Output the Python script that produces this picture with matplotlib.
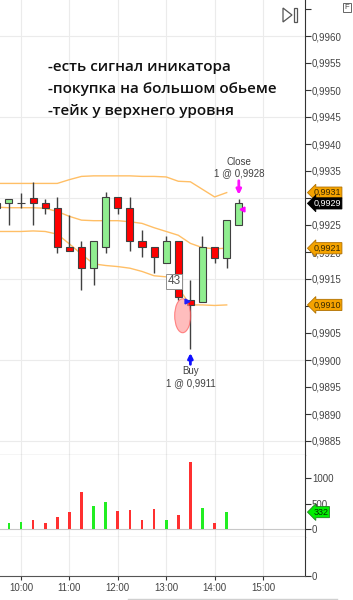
import matplotlib.pyplot as plt
from matplotlib.patches import Ellipse, Polygon, Rectangle
from matplotlib.lines import Line2D

# 15 min bars
times = ['09:30', '09:45', '10:00', '10:15', '10:30', '10:45', '11:00', '11:15',
         '11:30', '11:45', '12:00', '12:15', '12:30', '12:45', '13:00', '13:15',
         '13:30', '13:45', '14:00', '14:15', '14:30']
opens = [0.99281, 0.99291, 0.99290, 0.99300, 0.99290, 0.99281, 0.99209, 0.99209,
         0.99170, 0.99209, 0.99301, 0.99281, 0.99220, 0.99210, 0.99180, 0.99220,
         0.99111, 0.99108, 0.99210, 0.99189, 0.99250]
highs = [0.99300, 0.99299, 0.99310, 0.99330, 0.99299, 0.99301, 0.99269, 0.99221,
         0.99220, 0.99311, 0.99301, 0.99302, 0.99241, 0.99210, 0.99230, 0.99220,
         0.99149, 0.99230, 0.99210, 0.99259, 0.99298]
lows = [0.99280, 0.99250, 0.99281, 0.99250, 0.99270, 0.99199, 0.99201, 0.99130,
        0.99139, 0.99199, 0.99270, 0.99201, 0.99190, 0.99161, 0.99180, 0.99112,
        0.99020, 0.99108, 0.99180, 0.99170, 0.99250]
closes = [0.99291, 0.99299, 0.99290, 0.99290, 0.99282, 0.99209, 0.99201, 0.99170,
          0.99220, 0.99301, 0.99281, 0.99220, 0.99210, 0.99190, 0.99220, 0.99117,
          0.99102, 0.99210, 0.99189, 0.99259, 0.99290]

# volume (09:45 - 14:15)
vol_times = times[1:20]
volumes = [107, 133, 180, 107, 227, 327, 720, 447, 540, 360, 373, 167, 387, 173,
           267, 1320, 413, 120, 332]

# bands (09:30 - 14:15)
band_times = times[:20]
upper = [0.99327, 0.99327, 0.99327, 0.99327, 0.99327, 0.99327, 0.99334, 0.99340,
         0.99341, 0.99341, 0.99341, 0.99341, 0.99340, 0.99340, 0.99339, 0.99331,
         0.99330, 0.99316, 0.99302, 0.99310]
middle = [0.99283, 0.99282, 0.99282, 0.99282, 0.99281, 0.99275, 0.99266, 0.99259,
          0.99258, 0.99258, 0.99258, 0.99256, 0.99253, 0.99245, 0.99238, 0.99231,
          0.99216, 0.99208, 0.99206, 0.99207]
lower = [0.99238, 0.99238, 0.99238, 0.99239, 0.99238, 0.99233, 0.99215, 0.99196,
         0.99178, 0.99175, 0.99173, 0.99170, 0.99164, 0.99156, 0.99154, 0.99133,
         0.99102, 0.99102, 0.99101, 0.99102]

price_ticks = [0.9885, 0.9890, 0.9895, 0.9900, 0.9905, 0.9910, 0.9915, 0.9920,
               0.9925, 0.9930, 0.9935, 0.9940, 0.9945, 0.9950, 0.9955, 0.9960, 0.9965]
# labels covered by the value tags / cut at the top
hidden_labels = [0.9910, 0.9930, 0.9965]
price_grid = [0.9885, 0.9900, 0.9915, 0.9930, 0.9945, 0.9960]
hour_ticks = ['10:00', '11:00', '12:00', '13:00', '14:00', '15:00']
vol_ticks = [0, 500, 1000]

notes = ['-есть сигнал иникатора', '-покупка на большом обьеме', '-тейк у верхнего уровня']
buy_time, buy_price = '13:30', 0.9911
close_time, close_price = '14:30', 0.9928
bar_number = '43'


def to_h(s):
    h, m = s.split(':')
    return int(h) + int(m) / 60


def fmt_price(v):
    return ('%.4f' % v).replace('.', ',')


W, H = 353, 600
fig = plt.figure(figsize=(W / 100, H / 100), dpi=100)
plt.rcParams['font.family'] = ['Liberation Sans', 'DejaVu Sans']

axw = 305 / W
ax = fig.add_axes([0, 1 - 455 / H, axw, 455 / H])
axv = fig.add_axes([0, 1 - 537 / H, axw, 82 / H], sharex=ax)
axe = fig.add_axes([0, 1 - 576 / H, axw, 39 / H], sharex=ax)

x = [to_h(t) for t in times]
xv = [to_h(t) for t in vol_times]
xb = [to_h(t) for t in band_times]
hx = [to_h(t) for t in hour_ticks]

# grid
for a in (ax, axv, axe):
    for h in hx:
        a.axvline(h, color='#ebebeb', lw=0.8, zorder=0)
for p in price_grid:
    ax.axhline(p, color='#ebebeb', lw=0.8, zorder=0)
axv.axhline(0, color='#c8c8c8', lw=0.8, zorder=0)

# bands
for band in (upper, middle, lower):
    ax.plot(xb, band, color='#ffbf66', lw=1.0, zorder=1)

# candles
is_up = [c >= o for o, c in zip(opens, closes)]
body_col = ['#90ee90' if u else '#ff0000' for u in is_up]
bottoms = [min(o, c) for o, c in zip(opens, closes)]
heights = [max(abs(c - o), 0.000004) for o, c in zip(opens, closes)]
ax.vlines(x, lows, highs, color='#404040', lw=1.0, zorder=2)
ax.bar(x, heights, width=0.145, bottom=bottoms, color=body_col,
       edgecolor='#404040', lw=0.8, zorder=3)

# buy / close marks
bx = to_h(buy_time)
cx = to_h(close_time)
ax.add_patch(Ellipse((bx - 0.16, 0.99082), 0.33, 0.00063, fc='#ff9a9a',
                     ec='#ff5050', lw=0.8, alpha=0.65, zorder=4))
ax.plot(bx - 0.07, buy_price, marker='>', color='#2020ff', ms=3.5, zorder=5)
ax.annotate('', xy=(bx, 0.99013), xytext=(bx, 0.98992),
            arrowprops=dict(arrowstyle='-|>', color='#1010ff', lw=2,
                            mutation_scale=7, shrinkA=0, shrinkB=0))
ax.text(bx, 0.98988, 'Buy\n1 @ ' + fmt_price(buy_price), ha='center', va='top',
        fontsize=7, color='#404040', linespacing=1.15)

ax.plot(cx + 0.07, close_price, marker='<', color='#ff00ff', ms=3.5, zorder=5)
ax.annotate('', xy=(cx, 0.99306), xytext=(cx, 0.99332),
            arrowprops=dict(arrowstyle='-|>', color='#ff10ff', lw=2,
                            mutation_scale=7, shrinkA=0, shrinkB=0))
ax.text(cx, 0.99337, 'Close\n1 @ ' + fmt_price(close_price), ha='center',
        va='bottom', fontsize=7, color='#404040', linespacing=1.15)

ax.text(13.16, 0.99146, bar_number, ha='center', va='center', fontsize=8.5,
        color='#505050', zorder=6,
        bbox=dict(boxstyle='square,pad=0.12', fc='white', ec='#909090', lw=0.7))

# notes
for i, line in enumerate(notes):
    ax.text(48 / 305, 1 - (67 + 22 * i) / 455, line, transform=ax.transAxes,
            ha='left', va='center', fontsize=11, color='#111111',
            family=['Open Sans', 'DejaVu Sans'], fontweight='semibold')

# volume
vol_col = ['#22ee22' if u else '#ff3030' for u in is_up[1:20]]
axv.bar(xv, volumes, width=0.055, color=vol_col, zorder=2)

# axes setup
ax.set_xlim(10 - 21 / 48.4, 10 + 284 / 48.4)
ax.set_ylim(0.9960 - 419 / 54000, 0.9960 + 36 / 54000)
axv.set_ylim(-160, 1460)
axe.set_ylim(0, 1)

for a in (ax, axv, axe):
    a.set_facecolor('white')
    a.yaxis.tick_right()
    a.spines['left'].set_visible(False)
    a.spines['top'].set_visible(False)
    a.spines['right'].set_color('#333333')
    a.spines['bottom'].set_color('#555555')
    a.tick_params(axis='y', direction='out', length=4, color='#333333',
                  labelsize=7, labelcolor='#444444', pad=1)
    a.tick_params(axis='x', bottom=False, labelbottom=False)

ax.set_yticks(price_ticks)
ax.set_yticklabels(['' if p in hidden_labels else fmt_price(p) for p in price_ticks])
axv.set_yticks(vol_ticks)
axv.set_yticklabels([str(v) for v in vol_ticks])
axe.set_yticks([0])
axe.set_yticklabels(['0'])
axe.set_xticks(hx)
axe.set_xticklabels(hour_ticks)
axe.tick_params(axis='x', bottom=True, labelbottom=True, direction='out',
                length=3, color='#333333', labelsize=7, labelcolor='#444444', pad=2)


# right side value tags
def tag(a, y, text, fc, tc, ec):
    a.annotate(text, xy=(1, y), xycoords=('axes fraction', 'data'),
               xytext=(6, 0), textcoords='offset points', ha='left', va='center',
               fontsize=6.5, color=tc, annotation_clip=False, zorder=10,
               bbox=dict(boxstyle='larrow,pad=0.12', fc=fc, ec=ec, lw=0.6))


tag(ax, upper[-1], fmt_price(upper[-1]), '#f5a300', '#3a2a00', '#b07000')
tag(ax, closes[-1], fmt_price(closes[-1]), '#000000', 'white', '#000000')
tag(ax, middle[-1], fmt_price(middle[-1]), '#f5a300', '#3a2a00', '#b07000')
tag(ax, lower[-1], fmt_price(lower[-1]), '#f5a300', '#3a2a00', '#b07000')
tag(axv, volumes[-1], str(volumes[-1]), '#00ee00', '#003300', '#208020')


# toolbar bits
def fx(px):
    return px / W


def fy(py):
    return 1 - py / H


fig.add_artist(Polygon([(fx(283), fy(8)), (fx(292), fy(15)), (fx(283), fy(22))],
                       closed=True, fill=False, ec='#555555', lw=0.9,
                       transform=fig.transFigure))
fig.add_artist(Rectangle((fx(294), fy(22)), fx(2.5), 14 / H, fill=False,
                         ec='#555555', lw=0.9, transform=fig.transFigure))
fig.add_artist(Rectangle((fx(343), fy(12)), fx(8), 9 / H, fill=False,
                         ec='#666666', lw=0.7, transform=fig.transFigure))
fig.text(fx(347), fy(7.5), 'F', ha='center', va='center', fontsize=5.5,
         color='#444444')
fig.add_artist(Line2D([fx(128), fx(337)], [fy(599), fy(599)], color='#d0d0d0',
                      lw=1, transform=fig.transFigure))

fig.savefig('out.png', dpi=100, facecolor='white')
